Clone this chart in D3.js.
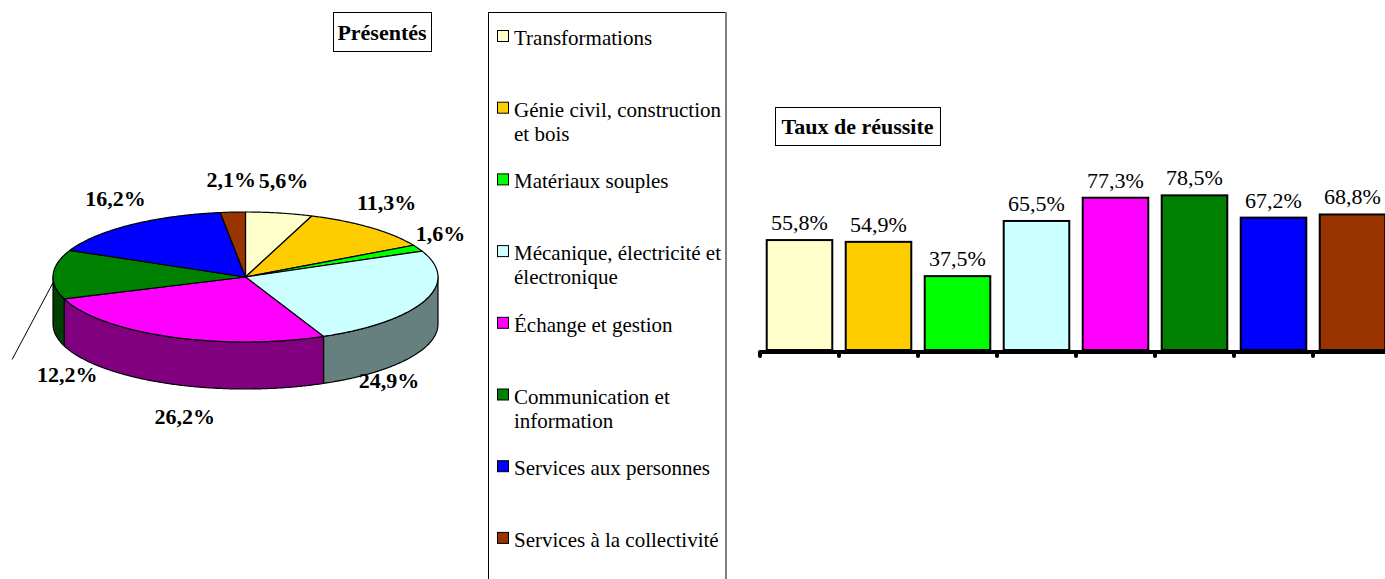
<!DOCTYPE html>
<html>
<head>
<meta charset="utf-8">
<script src="https://cdn.jsdelivr.net/npm/d3@7"></script>
<style>
  body { margin: 0; background: #fff; }
  svg text { font-family: "Liberation Serif", "Times New Roman", Times, "DejaVu Serif", serif; fill: #000; }
</style>
</head>
<body>
<svg id="chart"></svg>
<script>
// categories (legend order = slice order = bar order)
const categories = [
  "Transformations",
  "Génie civil, construction et bois",
  "Matériaux souples",
  "Mécanique, électricité et électronique",
  "Échange et gestion",
  "Communication et information",
  "Services aux personnes",
  "Services à la collectivité"
];
const presentes = [5.6, 11.3, 1.6, 24.9, 26.2, 12.2, 16.2, 2.1];
const reussite = [55.8, 54.9, 37.5, 65.5, 77.3, 78.5, 67.2, 68.8];
const colors = ["#FFFFCC", "#FFCC00", "#00FF00", "#CCFFFF", "#FF00FF", "#008000", "#0000FF", "#993300"];
const pieTitle = "Présentés";
const barTitle = "Taux de réussite";

const width = 1385, height = 579;
const serif = '"Liberation Serif", "Times New Roman", Times, "DejaVu Serif", serif';
const fr = d3.formatLocale({decimal: ",", thousands: " ", grouping: [3], currency: ["", "€"]});
const pct = v => fr.format(".1f")(v) + "%";

const svg = d3.select("#chart")
  .attr("width", width).attr("height", height)
  .attr("font-family", serif);
svg.append("rect").attr("width", width).attr("height", height).attr("fill", "#fff");

// titled box helper
function titleBox(x, y, w, h, label) {
  svg.append("rect")
    .attr("x", x + 0.5).attr("y", y + 0.5).attr("width", w).attr("height", h)
    .attr("fill", "#fff").attr("stroke", "#000");
  svg.append("text")
    .attr("x", x + w / 2).attr("y", y + h / 2 + 8)
    .attr("text-anchor", "middle")
    .attr("font-family", serif)
    .style("font-size", "22px").style("font-weight", "bold")
    .text(label);
}

// ---------- 3D PIE ----------
const cx = 245.5, cy = 277, rx = 192.5, ry = 65, depth = 47;
const pt = (a, dy = 0) => [cx + rx * Math.sin(a), cy - ry * Math.cos(a) + dy];

function arcPts(a0, a1, dy) {
  const n = Math.max(2, Math.ceil(Math.abs(a1 - a0) / (Math.PI / 360)));
  return d3.range(n + 1).map(k => pt(a0 + (a1 - a0) * k / n, dy));
}

const arcs = d3.pie().sort(null).value(d => d)(presentes);
const gPie = svg.append("g");

// sides (front half only)
arcs.forEach((d, i) => {
  const a0 = Math.max(d.startAngle, Math.PI / 2);
  const a1 = Math.min(d.endAngle, 3 * Math.PI / 2);
  if (a1 <= a0) return;
  const pts = arcPts(a0, a1, 0).concat(arcPts(a1, a0, depth));
  gPie.append("path")
    .attr("d", "M" + pts.map(p => p.join(",")).join("L") + "Z")
    .attr("fill", d3.color(colors[i]).darker(1.94))
    .attr("stroke", "#000").attr("stroke-width", 1.2).attr("stroke-linejoin", "round");
});

// top faces
arcs.forEach((d, i) => {
  const pts = [[cx, cy]].concat(arcPts(d.startAngle, d.endAngle, 0));
  gPie.append("path")
    .attr("d", "M" + pts.map(p => p.join(",")).join("L") + "Z")
    .attr("fill", colors[i])
    .attr("stroke", "#000").attr("stroke-width", 1.2).attr("stroke-linejoin", "round");
});

// labels
const movedLabel = {index: 5, dx: -41, dy: 77};
arcs.forEach((d, i) => {
  const m = (d.startAngle + d.endAngle) / 2;
  const s = Math.sin(m), c = Math.cos(m);
  let x, y;
  if (i === movedLabel.index) {
    const a = pt(m, 8);
    const b = [a[0] + movedLabel.dx, a[1] + movedLabel.dy];
    gPie.append("line")
      .attr("x1", a[0]).attr("y1", a[1]).attr("x2", b[0]).attr("y2", b[1])
      .attr("stroke", "#000").attr("stroke-width", 1);
    x = b[0] + 55; y = b[1] + 23;
  } else if (c < 0) {
    // front labels sit below the side wall
    const e = pt(m, depth);
    x = cx + (e[0] - cx) * 0.8;
    y = e[1] + 40;
  } else {
    const e = pt(m, 0);
    x = e[0] + 25 * s;
    y = e[1] - 32 * c + 7;
  }
  gPie.append("text")
    .attr("x", x).attr("y", y)
    .attr("text-anchor", "middle")
    .attr("font-family", serif)
    .style("font-size", "22px").style("font-weight", "bold")
    .text(pct(d.data));
});

titleBox(333, 12, 98, 39, pieTitle);

// ---------- LEGEND ----------
const lg = svg.append("g");
lg.append("rect")
  .attr("x", 488.5).attr("y", 12.5).attr("width", 237).attr("height", 620)
  .attr("fill", "#fff").attr("stroke", "#000");
lg.append("line")
  .attr("x1", 726).attr("x2", 726).attr("y1", 12).attr("y2", height)
  .attr("stroke", "#808080").attr("stroke-width", 2);

const legendStep = 71.7, legendTop = 45, lineH = 24, maxW = 212;
categories.forEach((name, i) => {
  const by = legendTop + i * legendStep;
  lg.append("rect")
    .attr("x", 497.5).attr("y", by - 14.5).attr("width", 11).attr("height", 11)
    .attr("fill", colors[i]).attr("stroke", "#000");
  const t = lg.append("text")
    .attr("x", 514).attr("y", by)
    .attr("font-family", serif)
    .style("font-size", "21px");
  // wrap words to maxW
  const words = name.split(" ");
  let line = [], tspan = t.append("tspan").attr("x", 514).attr("y", by), n = 0;
  words.forEach(w => {
    line.push(w);
    tspan.text(line.join(" "));
    if (tspan.node().getComputedTextLength() > maxW && line.length > 1) {
      line.pop();
      tspan.text(line.join(" "));
      line = [w];
      n++;
      tspan = t.append("tspan").attr("x", 514).attr("y", by + n * lineH).text(w);
    }
  });
});

// ---------- BAR CHART ----------
const x = d3.scaleBand().domain(categories).range([760, 1392]).paddingInner(0.17).paddingOuter(0.085);
const y = d3.scaleLinear().domain([0, 100]).range([350, 153]);
const gBar = svg.append("g");

gBar.selectAll("rect.bar")
  .data(reussite)
  .join("rect")
  .attr("class", "bar")
  .attr("x", (d, i) => x(categories[i]))
  .attr("y", d => y(d))
  .attr("width", x.bandwidth())
  .attr("height", d => y(0) - y(d))
  .attr("fill", (d, i) => colors[i])
  .attr("stroke", "#000").attr("stroke-width", 2);

gBar.selectAll("text.val")
  .data(reussite)
  .join("text")
  .attr("class", "val")
  .attr("x", (d, i) => x(categories[i]) + x.bandwidth() / 2)
  .attr("y", d => y(d) - 10)
  .attr("text-anchor", "middle")
  .attr("font-family", serif)
  .style("font-size", "22px")
  .text(d => pct(d));

// axis line and ticks at category boundaries
const tickX = categories.map(c => x(c) - x.step() * x.paddingInner() / 2);
gBar.append("line")
  .attr("x1", tickX[0]).attr("x2", width).attr("y1", y(0) + 2).attr("y2", y(0) + 2)
  .attr("stroke", "#000").attr("stroke-width", 4);
gBar.selectAll("line.tick")
  .data(tickX)
  .join("line")
  .attr("class", "tick")
  .attr("x1", d => d).attr("x2", d => d)
  .attr("y1", y(0) + 2).attr("y2", y(0) + 6)
  .attr("stroke", "#000").attr("stroke-width", 4).attr("stroke-linecap", "round");

titleBox(775, 107, 165, 38, barTitle);
</script>
</body>
</html>
